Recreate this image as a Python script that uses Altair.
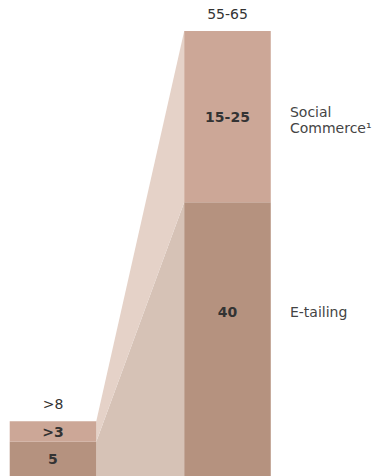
import altair as alt
import pandas as pd

# ---- data ----
stages = ["Today", "Future"]
stage_pos = [0, 1]
etail = [5, 40]
social = [3, 25]
etail_labels = ["5", "40"]
social_labels = [">3", "15-25"]
total_labels = [">8", "55-65"]
series = ["E-tailing", "Social Commerce"]
series_text = ["E-tailing", "Social\nCommerce\u00b9"]

HALF = 0.248
FONT = "DejaVu Sans"
FS = 14
bar_colors = ["#b5927f", "#cca797"]
conn_colors = ["#d6c2b6", "#e5d2c8"]

rows = []
for s, p, e, so in zip(stages, stage_pos, etail, social):
    rows.append(dict(stage=s, pos=p, series=series[0], lo=0, hi=e))
    rows.append(dict(stage=s, pos=p, series=series[1], lo=e, hi=e + so))
bars = pd.DataFrame(rows)

conn_rows = []
for s, p, e, so in zip(stages, stage_pos, etail, social):
    edge = p + HALF if p == 0 else p - HALF
    conn_rows.append(dict(cseries=series[0], x=edge, lo=0, hi=e))
    conn_rows.append(dict(cseries=series[1], x=edge, lo=e, hi=e + so))
conn = pd.DataFrame(conn_rows)

lab = pd.DataFrame(dict(stage=stages, pos=stage_pos, etail=etail, social=social,
                        el=etail_labels, sl=social_labels, tl=total_labels))
lab["total"] = lab["etail"] + lab["social"]
lab["emid"] = lab["etail"] / 2
lab["smid"] = lab["etail"] + lab["social"] / 2

xs = alt.Scale(domain=[-0.3037, 1.9026], nice=False, zero=False)
ys = alt.Scale(domain=[0, 65], nice=False)


def X(f):
    return alt.X(f, scale=xs, axis=None)


def Y(f):
    return alt.Y(f, scale=ys, axis=None)


connector = alt.Chart(conn).mark_area(opacity=1).encode(
    x=X("x:Q"),
    y=Y("hi:Q"),
    y2="lo:Q",
    color=alt.Color("cseries:N", scale=alt.Scale(domain=series, range=conn_colors), legend=None),
    detail="cseries:N",
)

bar = alt.Chart(bars).transform_calculate(
    x0=f"datum.pos - {HALF}", x1=f"datum.pos + {HALF}"
).mark_rect().encode(
    x=X("x0:Q"),
    x2="x1:Q",
    y=Y("hi:Q"),
    y2="lo:Q",
    color=alt.Color("series:N", scale=alt.Scale(domain=series, range=bar_colors), legend=None),
)

base_text = alt.Chart(lab)

total_t = base_text.mark_text(font=FONT, fontSize=FS, color="#333333", baseline="bottom", dy=-9).encode(
    x=X("pos:Q"), y=Y("total:Q"), text="tl:N")

social_t = base_text.mark_text(font=FONT, fontSize=FS, fontWeight="bold", color="#333333", baseline="middle", dy=1).encode(
    x=X("pos:Q"), y=Y("smid:Q"), text="sl:N")

etail_left = base_text.transform_filter("datum.pos == 0").mark_text(
    font=FONT, fontSize=FS, fontWeight="bold", color="#333333", baseline="middle", dy=1).encode(
    x=X("pos:Q"), y=Y("emid:Q"), text="el:N")

etail_right = base_text.transform_filter("datum.pos == 1").mark_text(
    font=FONT, fontSize=FS, fontWeight="bold", color="#333333", baseline="middle", dy=-26).encode(
    x=X("pos:Q"), y=Y("emid:Q"), text="el:N")

ser = pd.DataFrame(dict(series=series, text=series_text,
                        ymid=[lab["emid"].iloc[1], lab["smid"].iloc[1]],
                        xpos=[stage_pos[1] + 0.358] * 2))
ser["lines"] = ser["text"].str.split("\n")

ser_e = alt.Chart(ser.iloc[[0]]).mark_text(font=FONT, fontSize=FS, color="#444444", align="left",
                                            baseline="middle", dy=-26).encode(
    x=X("xpos:Q"), y=Y("ymid:Q"), text="text:N")

ser_s = alt.Chart(ser.iloc[[1]]).mark_text(font=FONT, fontSize=FS, color="#444444", align="left",
                                            baseline="middle", lineHeight=16, dy=-4).encode(
    x=X("xpos:Q"), y=Y("ymid:Q"), text="lines")

chart = alt.layer(connector, bar, total_t, social_t, etail_left, etail_right, ser_e, ser_s).resolve_scale(
    color="independent"
).properties(
    width=385, height=445,
    background="white",
    padding={"top": 31, "left": 0, "right": 0, "bottom": 0},
    autosize=alt.AutoSizeParams(type="none"),
).configure_view(stroke=None, strokeWidth=0)

chart.save("out.html", embed_options={"renderer": "svg", "actions": False})
